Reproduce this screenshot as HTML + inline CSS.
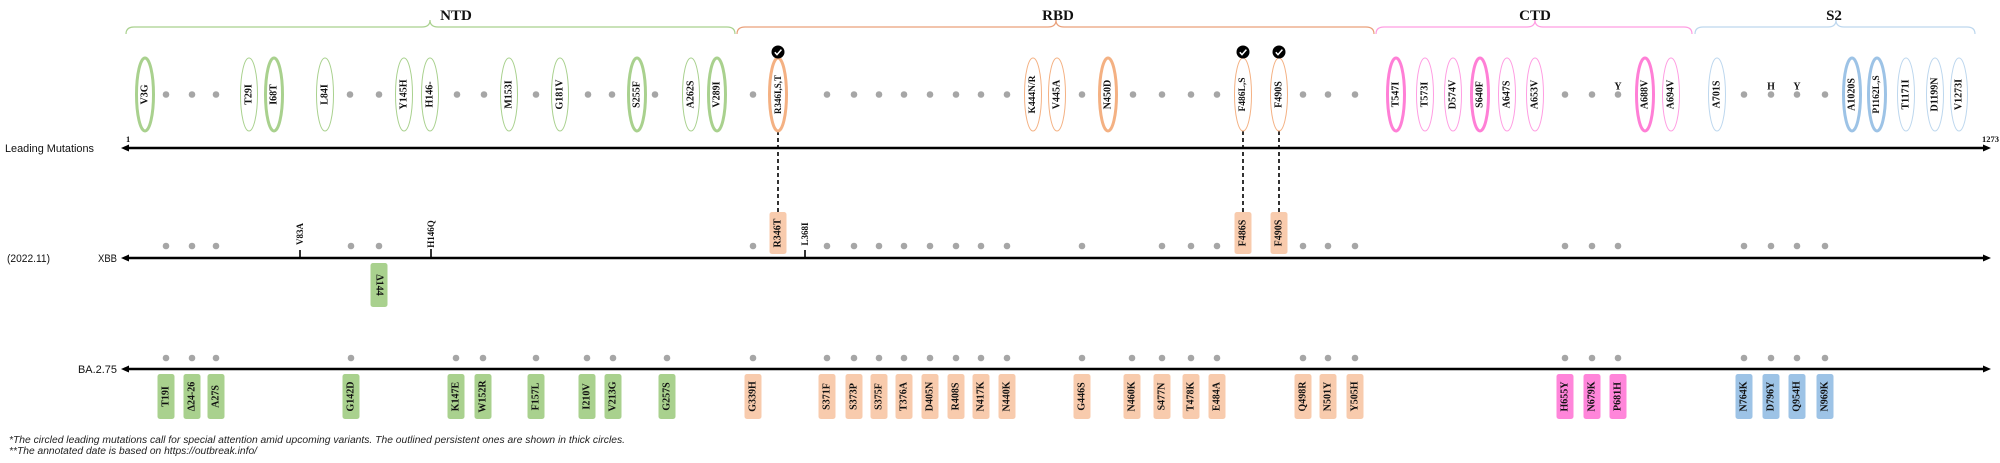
<!DOCTYPE html>
<html><head><meta charset="utf-8">
<style>
html,body{margin:0;padding:0;background:#fff;}
svg{display:block;}
.lb{font-family:"Liberation Serif",serif;font-weight:bold;font-size:10px;text-anchor:middle;dominant-baseline:central;fill:#111;}
.bx{font-family:"Liberation Serif",serif;font-weight:bold;font-size:10px;text-anchor:middle;dominant-baseline:central;fill:#111;}
.tt{font-family:"Liberation Serif",serif;font-weight:bold;font-size:15px;text-anchor:middle;fill:#111;}
.ax{font-family:"Liberation Sans",sans-serif;font-size:11px;fill:#111;}
.fn{font-family:"Liberation Sans",sans-serif;font-style:italic;font-size:10px;fill:#222;}
.sm{font-family:"Liberation Serif",serif;font-weight:bold;font-size:8.5px;fill:#111;}
</style></head>
<body>
<svg width="2000" height="463" viewBox="0 0 2000 463" xmlns="http://www.w3.org/2000/svg">
<rect width="2000" height="463" fill="#fff"/>

<!-- Braces -->
<g fill="none" stroke-width="1.2">
<path d="M126,34 Q126,27 134,27 L422,27 Q430,27 430,20 Q430,27 438,27 L727,27 Q735,27 735,34" stroke="#a9d18e"/>
<path d="M737,34 Q737,27 745,27 L1048,27 Q1056,27 1056,20 Q1056,27 1064,27 L1366,27 Q1374,27 1374,34" stroke="#e9a07a"/>
<path d="M1376,34 Q1376,27 1384,27 L1527,27 Q1535,27 1535,20 Q1535,27 1543,27 L1684,27 Q1692,27 1692,34" stroke="#ff9de2"/>
<path d="M1695,34 Q1695,27 1703,27 L1828,27 Q1836,27 1836,20 Q1836,27 1844,27 L1967,27 Q1975,27 1975,34" stroke="#bdd7ee"/>
</g>
<text class="tt" x="456" y="20">NTD</text>
<text class="tt" x="1058" y="20">RBD</text>
<text class="tt" x="1535" y="20">CTD</text>
<text class="tt" x="1834" y="20">S2</text>

<!-- Dashed connectors -->
<g stroke="#000" stroke-width="1.6" stroke-dasharray="4,3" fill="none">
<line x1="778" y1="131" x2="778" y2="212"/>
<line x1="1243" y1="131" x2="1243" y2="212"/>
<line x1="1279" y1="131" x2="1279" y2="212"/>
</g>

<!-- Axes -->
<g stroke="#000" stroke-width="2.5">
<line x1="124" y1="148" x2="1987" y2="148"/>
<line x1="124" y1="258" x2="1987" y2="258"/>
<line x1="124" y1="369" x2="1987" y2="369"/>
</g>
<g fill="#000">
<path d="M121,148 L129,144.5 L129,151.5 Z"/><path d="M1991,148 L1983,144.5 L1983,151.5 Z"/>
<path d="M121,258 L129,254.5 L129,261.5 Z"/><path d="M1991,258 L1983,254.5 L1983,261.5 Z"/>
<path d="M121,369 L129,365.5 L129,372.5 Z"/><path d="M1991,369 L1983,365.5 L1983,372.5 Z"/>
</g>
<text class="sm" x="126" y="142">1</text>
<text class="sm" x="1999" y="142" text-anchor="end">1273</text>

<text class="ax" x="5" y="152" textLength="89" lengthAdjust="spacingAndGlyphs">Leading Mutations</text>
<text class="ax" x="7" y="262" textLength="43" lengthAdjust="spacingAndGlyphs">(2022.11)</text>
<text class="ax" x="98" y="262" textLength="19" lengthAdjust="spacingAndGlyphs">XBB</text>
<text class="ax" x="78" y="373" textLength="39" lengthAdjust="spacingAndGlyphs">BA.2.75</text>

<!-- Leading dots -->
<g fill="#a6a6a6">
<circle cx="166" cy="94.5" r="3.3"/><circle cx="192" cy="94.5" r="3.3"/><circle cx="216" cy="94.5" r="3.3"/>
<circle cx="350" cy="94.5" r="3.3"/><circle cx="379" cy="94.5" r="3.3"/>
<circle cx="457" cy="94.5" r="3.3"/><circle cx="484" cy="94.5" r="3.3"/>
<circle cx="536" cy="94.5" r="3.3"/><circle cx="588" cy="94.5" r="3.3"/><circle cx="612" cy="94.5" r="3.3"/>
<circle cx="655" cy="94.5" r="3.3"/><circle cx="753" cy="94.5" r="3.3"/>
<circle cx="827" cy="94.5" r="3.3"/><circle cx="854" cy="94.5" r="3.3"/><circle cx="879" cy="94.5" r="3.3"/><circle cx="904" cy="94.5" r="3.3"/>
<circle cx="930" cy="94.5" r="3.3"/><circle cx="956" cy="94.5" r="3.3"/><circle cx="981" cy="94.5" r="3.3"/><circle cx="1007" cy="94.5" r="3.3"/>
<circle cx="1082" cy="94.5" r="3.3"/><circle cx="1133" cy="94.5" r="3.3"/><circle cx="1162" cy="94.5" r="3.3"/><circle cx="1191" cy="94.5" r="3.3"/><circle cx="1217" cy="94.5" r="3.3"/>
<circle cx="1303" cy="94.5" r="3.3"/><circle cx="1328" cy="94.5" r="3.3"/><circle cx="1355" cy="94.5" r="3.3"/>
<circle cx="1565" cy="94.5" r="3.3"/><circle cx="1592" cy="94.5" r="3.3"/><circle cx="1618" cy="94.5" r="3.3"/>
<circle cx="1744" cy="94.5" r="3.3"/><circle cx="1771" cy="94.5" r="3.3"/><circle cx="1797" cy="94.5" r="3.3"/><circle cx="1825" cy="94.5" r="3.3"/>
</g>
<text class="lb" x="1618" y="87">Y</text>
<text class="lb" x="1771" y="87">H</text>
<text class="lb" x="1797" y="87">Y</text>

<!-- Leading ellipses -->
<g fill="#fff">
<g stroke="#a9d18e" stroke-width="3">
<ellipse cx="145" cy="94.5" rx="8.5" ry="36.5"/><ellipse cx="274" cy="94.5" rx="8.5" ry="36.5"/>
<ellipse cx="637" cy="94.5" rx="8.5" ry="36.5"/><ellipse cx="717" cy="94.5" rx="8.5" ry="36.5"/>
</g>
<g stroke="#a9d18e" stroke-width="1">
<ellipse cx="249" cy="94.5" rx="8.5" ry="36.5"/><ellipse cx="325" cy="94.5" rx="8.5" ry="36.5"/>
<ellipse cx="404" cy="94.5" rx="8.5" ry="36.5"/><ellipse cx="430" cy="94.5" rx="8.5" ry="36.5"/>
<ellipse cx="509" cy="94.5" rx="8.5" ry="36.5"/><ellipse cx="560" cy="94.5" rx="8.5" ry="36.5"/>
<ellipse cx="691" cy="94.5" rx="8.5" ry="36.5"/>
</g>
<g stroke="#f4b183" stroke-width="3">
<ellipse cx="778" cy="94.5" rx="8.5" ry="36.5"/><ellipse cx="1108" cy="94.5" rx="8.5" ry="36.5"/>
</g>
<g stroke="#f4b183" stroke-width="1">
<ellipse cx="1033" cy="94.5" rx="8.5" ry="36.5"/><ellipse cx="1057" cy="94.5" rx="8.5" ry="36.5"/>
<ellipse cx="1243" cy="94.5" rx="8.5" ry="36.5"/><ellipse cx="1279" cy="94.5" rx="8.5" ry="36.5"/>
</g>
<g stroke="#ff7fd6" stroke-width="3">
<ellipse cx="1396" cy="94.5" rx="8.5" ry="36.5"/><ellipse cx="1480" cy="94.5" rx="8.5" ry="36.5"/>
<ellipse cx="1645" cy="94.5" rx="8.5" ry="36.5"/>
</g>
<g stroke="#ff9de2" stroke-width="1">
<ellipse cx="1425" cy="94.5" rx="8.5" ry="36.5"/><ellipse cx="1453" cy="94.5" rx="8.5" ry="36.5"/>
<ellipse cx="1507" cy="94.5" rx="8.5" ry="36.5"/><ellipse cx="1535" cy="94.5" rx="8.5" ry="36.5"/>
<ellipse cx="1671" cy="94.5" rx="8.5" ry="36.5"/>
</g>
<g stroke="#9dc3e6" stroke-width="3">
<ellipse cx="1852" cy="94.5" rx="8.5" ry="36.5"/><ellipse cx="1877" cy="94.5" rx="8.5" ry="36.5"/>
</g>
<g stroke="#bdd7ee" stroke-width="1">
<ellipse cx="1717" cy="94.5" rx="8.5" ry="36.5"/><ellipse cx="1906" cy="94.5" rx="8.5" ry="36.5"/>
<ellipse cx="1935" cy="94.5" rx="8.5" ry="36.5"/><ellipse cx="1959" cy="94.5" rx="8.5" ry="36.5"/>
</g>
</g>

<!-- Leading labels -->
<text class="lb" transform="translate(145,94.5) rotate(-90)">V3G</text>
<text class="lb" transform="translate(249,94.5) rotate(-90)">T29I</text>
<text class="lb" transform="translate(274,94.5) rotate(-90)">I68T</text>
<text class="lb" transform="translate(325,94.5) rotate(-90)">L84I</text>
<text class="lb" transform="translate(404,94.5) rotate(-90)">Y145H</text>
<text class="lb" transform="translate(430,94.5) rotate(-90)">H146-</text>
<text class="lb" transform="translate(509,94.5) rotate(-90)">M153I</text>
<text class="lb" transform="translate(560,94.5) rotate(-90)">G181V</text>
<text class="lb" transform="translate(637,94.5) rotate(-90)">S255F</text>
<text class="lb" transform="translate(691,94.5) rotate(-90)">A262S</text>
<text class="lb" transform="translate(717,94.5) rotate(-90)">V289I</text>
<text class="lb" transform="translate(778,94.5) rotate(-90)" style="font-size:9px">R346I,S,T</text>
<text class="lb" transform="translate(1033,94.5) rotate(-90)" style="font-size:9.5px">K444N/R</text>
<text class="lb" transform="translate(1057,94.5) rotate(-90)">V445A</text>
<text class="lb" transform="translate(1108,94.5) rotate(-90)">N450D</text>
<text class="lb" transform="translate(1243,94.5) rotate(-90)" style="font-size:9.5px">F486L,S</text>
<text class="lb" transform="translate(1279,94.5) rotate(-90)">F490S</text>
<text class="lb" transform="translate(1396,94.5) rotate(-90)">T547I</text>
<text class="lb" transform="translate(1425,94.5) rotate(-90)">T573I</text>
<text class="lb" transform="translate(1453,94.5) rotate(-90)">D574V</text>
<text class="lb" transform="translate(1480,94.5) rotate(-90)">S640F</text>
<text class="lb" transform="translate(1507,94.5) rotate(-90)">A647S</text>
<text class="lb" transform="translate(1535,94.5) rotate(-90)">A653V</text>
<text class="lb" transform="translate(1645,94.5) rotate(-90)">A688V</text>
<text class="lb" transform="translate(1671,94.5) rotate(-90)">A694V</text>
<text class="lb" transform="translate(1717,94.5) rotate(-90)">A701S</text>
<text class="lb" transform="translate(1852,94.5) rotate(-90)">A1020S</text>
<text class="lb" transform="translate(1877,94.5) rotate(-90)" style="font-size:9.5px">P1162L,S</text>
<text class="lb" transform="translate(1906,94.5) rotate(-90)">T1171I</text>
<text class="lb" transform="translate(1935,94.5) rotate(-90)">D1199N</text>
<text class="lb" transform="translate(1959,94.5) rotate(-90)">V1273I</text>

<!-- Check icons -->
<g>
<circle cx="778" cy="52" r="6.5" fill="#000"/><path d="M774.8,52.2 L777,54.6 L781.4,49.6" stroke="#fff" stroke-width="1.5" fill="none"/>
<circle cx="1243" cy="52" r="6.5" fill="#000"/><path d="M1239.8,52.2 L1242,54.6 L1246.4,49.6" stroke="#fff" stroke-width="1.5" fill="none"/>
<circle cx="1279" cy="52" r="6.5" fill="#000"/><path d="M1275.8,52.2 L1278,54.6 L1282.4,49.6" stroke="#fff" stroke-width="1.5" fill="none"/>
</g>

<!-- XBB row -->
<g fill="#a6a6a6">
<circle cx="166" cy="246" r="3.3"/><circle cx="192" cy="246" r="3.3"/><circle cx="216" cy="246" r="3.3"/>
<circle cx="351" cy="246" r="3.3"/><circle cx="379" cy="246" r="3.3"/>
<circle cx="753" cy="246" r="3.3"/>
<circle cx="827" cy="246" r="3.3"/><circle cx="854" cy="246" r="3.3"/><circle cx="879" cy="246" r="3.3"/><circle cx="904" cy="246" r="3.3"/>
<circle cx="930" cy="246" r="3.3"/><circle cx="956" cy="246" r="3.3"/><circle cx="981" cy="246" r="3.3"/><circle cx="1007" cy="246" r="3.3"/>
<circle cx="1082" cy="246" r="3.3"/><circle cx="1162" cy="246" r="3.3"/><circle cx="1191" cy="246" r="3.3"/><circle cx="1217" cy="246" r="3.3"/>
<circle cx="1303" cy="246" r="3.3"/><circle cx="1328" cy="246" r="3.3"/><circle cx="1355" cy="246" r="3.3"/>
<circle cx="1565" cy="246" r="3.3"/><circle cx="1592" cy="246" r="3.3"/><circle cx="1618" cy="246" r="3.3"/>
<circle cx="1744" cy="246" r="3.3"/><circle cx="1771" cy="246" r="3.3"/><circle cx="1797" cy="246" r="3.3"/><circle cx="1825" cy="246" r="3.3"/>
</g>
<g stroke="#000" stroke-width="1.6">
<line x1="300" y1="250" x2="300" y2="258"/>
<line x1="431" y1="249" x2="431" y2="258"/>
<line x1="805" y1="250" x2="805" y2="258"/>
</g>
<text class="lb" transform="translate(300,234) rotate(-90)" style="font-size:9px">V83A</text>
<text class="lb" transform="translate(431,234) rotate(-90)" style="font-size:9px">H146Q</text>
<text class="lb" transform="translate(805,234) rotate(-90)" style="font-size:9px">L368I</text>

<g>
<rect x="769.5" y="212" width="17" height="42" rx="2.5" fill="#f8cbad"/>
<rect x="1234.5" y="212" width="17" height="42" rx="2.5" fill="#f8cbad"/>
<rect x="1270.5" y="212" width="17" height="42" rx="2.5" fill="#f8cbad"/>
<rect x="370.5" y="263" width="17" height="44" rx="2.5" fill="#a9d18e"/>
</g>
<text class="bx" transform="translate(778,233) rotate(-90)">R346T</text>
<text class="bx" transform="translate(1243,233) rotate(-90)">F486S</text>
<text class="bx" transform="translate(1279,233) rotate(-90)">F490S</text>
<text class="bx" transform="translate(379,285) rotate(90)">Δ144</text>

<!-- BA.2.75 row -->
<g fill="#a6a6a6">
<circle cx="166" cy="358" r="3.3"/><circle cx="192" cy="358" r="3.3"/><circle cx="216" cy="358" r="3.3"/>
<circle cx="351" cy="358" r="3.3"/><circle cx="456" cy="358" r="3.3"/><circle cx="483" cy="358" r="3.3"/>
<circle cx="536" cy="358" r="3.3"/><circle cx="587" cy="358" r="3.3"/><circle cx="613" cy="358" r="3.3"/><circle cx="667" cy="358" r="3.3"/>
<circle cx="753" cy="358" r="3.3"/>
<circle cx="827" cy="358" r="3.3"/><circle cx="854" cy="358" r="3.3"/><circle cx="879" cy="358" r="3.3"/><circle cx="904" cy="358" r="3.3"/>
<circle cx="930" cy="358" r="3.3"/><circle cx="956" cy="358" r="3.3"/><circle cx="981" cy="358" r="3.3"/><circle cx="1007" cy="358" r="3.3"/>
<circle cx="1082" cy="358" r="3.3"/><circle cx="1132" cy="358" r="3.3"/><circle cx="1162" cy="358" r="3.3"/><circle cx="1191" cy="358" r="3.3"/><circle cx="1217" cy="358" r="3.3"/>
<circle cx="1303" cy="358" r="3.3"/><circle cx="1328" cy="358" r="3.3"/><circle cx="1355" cy="358" r="3.3"/>
<circle cx="1565" cy="358" r="3.3"/><circle cx="1592" cy="358" r="3.3"/><circle cx="1618" cy="358" r="3.3"/>
<circle cx="1744" cy="358" r="3.3"/><circle cx="1771" cy="358" r="3.3"/><circle cx="1797" cy="358" r="3.3"/><circle cx="1825" cy="358" r="3.3"/>
</g>

<g fill="#a9d18e">
<rect x="157.5" y="374" width="17" height="45" rx="2.5"/><rect x="183.5" y="374" width="17" height="45" rx="2.5"/>
<rect x="207.5" y="374" width="17" height="45" rx="2.5"/><rect x="342.5" y="374" width="17" height="45" rx="2.5"/>
<rect x="447.5" y="374" width="17" height="45" rx="2.5"/><rect x="474.5" y="374" width="17" height="45" rx="2.5"/>
<rect x="527.5" y="374" width="17" height="45" rx="2.5"/><rect x="578.5" y="374" width="17" height="45" rx="2.5"/>
<rect x="604.5" y="374" width="17" height="45" rx="2.5"/><rect x="658.5" y="374" width="17" height="45" rx="2.5"/>
</g>
<g fill="#f8cbad">
<rect x="744.5" y="374" width="17" height="45" rx="2.5"/>
<rect x="818.5" y="374" width="17" height="45" rx="2.5"/><rect x="845.5" y="374" width="17" height="45" rx="2.5"/>
<rect x="870.5" y="374" width="17" height="45" rx="2.5"/><rect x="895.5" y="374" width="17" height="45" rx="2.5"/>
<rect x="921.5" y="374" width="17" height="45" rx="2.5"/><rect x="947.5" y="374" width="17" height="45" rx="2.5"/>
<rect x="972.5" y="374" width="17" height="45" rx="2.5"/><rect x="998.5" y="374" width="17" height="45" rx="2.5"/>
<rect x="1073.5" y="374" width="17" height="45" rx="2.5"/><rect x="1123.5" y="374" width="17" height="45" rx="2.5"/>
<rect x="1153.5" y="374" width="17" height="45" rx="2.5"/><rect x="1182.5" y="374" width="17" height="45" rx="2.5"/>
<rect x="1208.5" y="374" width="17" height="45" rx="2.5"/><rect x="1294.5" y="374" width="17" height="45" rx="2.5"/>
<rect x="1319.5" y="374" width="17" height="45" rx="2.5"/><rect x="1346.5" y="374" width="17" height="45" rx="2.5"/>
</g>
<g fill="#ff85da">
<rect x="1556.5" y="374" width="17" height="45" rx="2.5"/><rect x="1583.5" y="374" width="17" height="45" rx="2.5"/>
<rect x="1609.5" y="374" width="17" height="45" rx="2.5"/>
</g>
<g fill="#9dc3e6">
<rect x="1735.5" y="374" width="17" height="45" rx="2.5"/><rect x="1762.5" y="374" width="17" height="45" rx="2.5"/>
<rect x="1788.5" y="374" width="17" height="45" rx="2.5"/><rect x="1816.5" y="374" width="17" height="45" rx="2.5"/>
</g>

<text class="bx" transform="translate(166,396.5) rotate(-90)">T19I</text>
<text class="bx" transform="translate(192,396.5) rotate(-90)">Δ24-26</text>
<text class="bx" transform="translate(216,396.5) rotate(-90)">A27S</text>
<text class="bx" transform="translate(351,396.5) rotate(-90)">G142D</text>
<text class="bx" transform="translate(456,396.5) rotate(-90)">K147E</text>
<text class="bx" transform="translate(483,396.5) rotate(-90)">W152R</text>
<text class="bx" transform="translate(536,396.5) rotate(-90)">F157L</text>
<text class="bx" transform="translate(587,396.5) rotate(-90)">I210V</text>
<text class="bx" transform="translate(613,396.5) rotate(-90)">V213G</text>
<text class="bx" transform="translate(667,396.5) rotate(-90)">G257S</text>
<text class="bx" transform="translate(753,396.5) rotate(-90)">G339H</text>
<text class="bx" transform="translate(827,396.5) rotate(-90)">S371F</text>
<text class="bx" transform="translate(854,396.5) rotate(-90)">S373P</text>
<text class="bx" transform="translate(879,396.5) rotate(-90)">S375F</text>
<text class="bx" transform="translate(904,396.5) rotate(-90)">T376A</text>
<text class="bx" transform="translate(930,396.5) rotate(-90)">D405N</text>
<text class="bx" transform="translate(956,396.5) rotate(-90)">R408S</text>
<text class="bx" transform="translate(981,396.5) rotate(-90)">N417K</text>
<text class="bx" transform="translate(1007,396.5) rotate(-90)">N440K</text>
<text class="bx" transform="translate(1082,396.5) rotate(-90)">G446S</text>
<text class="bx" transform="translate(1132,396.5) rotate(-90)">N460K</text>
<text class="bx" transform="translate(1162,396.5) rotate(-90)">S477N</text>
<text class="bx" transform="translate(1191,396.5) rotate(-90)">T478K</text>
<text class="bx" transform="translate(1217,396.5) rotate(-90)">E484A</text>
<text class="bx" transform="translate(1303,396.5) rotate(-90)">Q498R</text>
<text class="bx" transform="translate(1328,396.5) rotate(-90)">N501Y</text>
<text class="bx" transform="translate(1355,396.5) rotate(-90)">Y505H</text>
<text class="bx" transform="translate(1565,396.5) rotate(-90)">H655Y</text>
<text class="bx" transform="translate(1592,396.5) rotate(-90)">N679K</text>
<text class="bx" transform="translate(1618,396.5) rotate(-90)">P681H</text>
<text class="bx" transform="translate(1744,396.5) rotate(-90)">N764K</text>
<text class="bx" transform="translate(1771,396.5) rotate(-90)">D796Y</text>
<text class="bx" transform="translate(1797,396.5) rotate(-90)">Q954H</text>
<text class="bx" transform="translate(1825,396.5) rotate(-90)">N969K</text>

<!-- Footnotes -->
<text class="fn" x="9" y="443" textLength="616" lengthAdjust="spacingAndGlyphs">*The circled leading mutations call for special attention amid upcoming variants. The outlined persistent ones are shown in thick circles.</text>
<text class="fn" x="9" y="454" textLength="248" lengthAdjust="spacingAndGlyphs">**The annotated date is based on https://outbreak.info/</text>
</svg>
</body></html>
